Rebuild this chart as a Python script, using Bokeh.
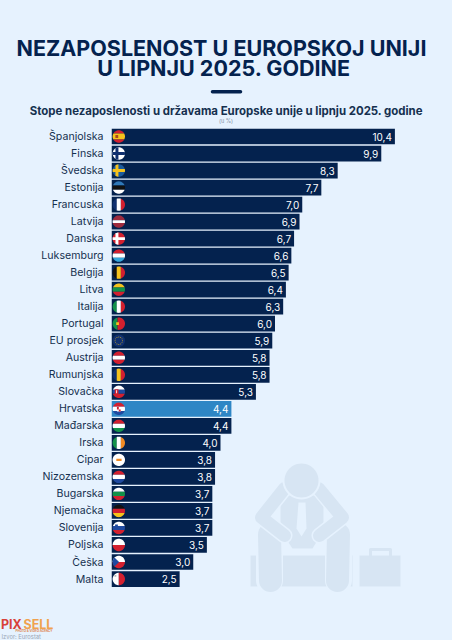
import math
from bokeh.plotting import figure
from bokeh.layouts import column
from bokeh.core.properties import value as fixed
from bokeh.models import ColumnDataSource, Range1d, LinearAxis, FixedTicker, Label
from bokeh.embed import file_html
from bokeh.resources import INLINE

COUNTRIES = ["Španjolska", "Finska", "Švedska", "Estonija", "Francuska", "Latvija", "Danska",
             "Luksemburg", "Belgija", "Litva", "Italija", "Portugal", "EU prosjek", "Austrija",
             "Rumunjska", "Slovačka", "Hrvatska", "Mađarska", "Irska", "Cipar", "Nizozemska",
             "Bugarska", "Njemačka", "Slovenija", "Poljska", "Češka", "Malta"]
VALUES = [10.4, 9.9, 8.3, 7.7, 7.0, 6.9, 6.7, 6.6, 6.5, 6.4, 6.3, 6.0, 5.9, 5.8, 5.8, 5.3,
          4.4, 4.4, 4.0, 3.8, 3.8, 3.7, 3.7, 3.7, 3.5, 3.0, 2.5]
HIGHLIGHT = "Hrvatska"
TITLE_LINES = ["NEZAPOSLENOST U EUROPSKOJ UNIJI", "U LIPNJU 2025. GODINE"]
SUBTITLE = "Stope nezaposlenosti u državama Europske unije u lipnju 2025. godine"
UNIT = "(u %)"
SOURCE = "Izvor: Eurostat"

BG = "#e6f2fe"
NAVY = "#04224e"
BLUE = "#2e86c5"
INK = "#15304f"
GHOST = "#d7e5f3"
FONT = "Inter"

W = 452
TOP, BOTTOM = 124, 600   # page y where the chart panel starts and ends
PAGE_H = 640
PXU = 27.25           # pixels per percentage point
ROW = 17.02           # pixels per row
X0 = 111              # page x of value 0
Y0 = 136              # page y of first row centre


def X(px):
    return (px - X0) / PXU


def Y(py):
    return (py - Y0) / ROW


def panel(y0, y1):
    """Full-width text panel whose data coordinates are page pixels."""
    f = figure(width=W, height=y1 - y0, output_backend="svg", toolbar_location=None,
               x_range=Range1d(0, W), y_range=Range1d(y1, y0), x_axis_type=None, y_axis_type=None,
               min_border=0, outline_line_color=None, background_fill_color=BG, border_fill_color=BG,
               frame_align=False)
    f.grid.visible = False
    return f


head = panel(0, TOP)
foot = panel(BOTTOM, PAGE_H)

p = figure(width=W, height=BOTTOM - TOP, output_backend="svg", toolbar_location=None,
           x_range=Range1d(0, X(W)), y_range=Range1d(Y(BOTTOM), Y(TOP)),
           x_axis_type=None, y_axis_type=None, min_border=0, min_border_left=X0,
           outline_line_color=None, background_fill_color=BG, border_fill_color=BG,
           frame_align=False)
p.grid.visible = False


def circle_poly(cx, cy, r, n=48):
    return [(cx + r * math.cos(2 * math.pi * k / n), cy + r * math.sin(2 * math.pi * k / n)) for k in range(n)]


def ghost_poly(points, color=GHOST):
    p.patch([X(a) for a, _ in points], [Y(b) for _, b in points], fill_color=color, line_color=None)


def ghost_line(points, width, color=GHOST):
    p.line([X(a) for a, _ in points], [Y(b) for _, b in points], line_color=color,
           line_width=width, line_cap="round", line_join="round")


def rect(x0, y0, x1, y1):
    return [(x0, y0), (x1, y0), (x1, y1), (x0, y1)]


# background silhouette: bench, legs, arms, torso, head, briefcase
ghost_poly(rect(250, 555, 352, 586))
ghost_poly(rect(359, 555, 400, 586))
ghost_line([(370, 555), (370, 549), (390, 549), (390, 555)], 3)
ghost_line([(269, 534), (269, 580)], 27, BG)
ghost_line([(338, 534), (338, 580)], 27, BG)
ghost_line([(269, 534), (270, 580)], 23)
ghost_line([(338, 534), (337, 580)], 23)
ghost_poly([(280, 495), (323, 495), (323, 530), (312, 548), (292, 548), (280, 530)])
ghost_line([(284, 488), (261, 517), (284, 535)], 16, BG)
ghost_line([(318, 488), (342, 517), (319, 535)], 16, BG)
ghost_line([(284, 488), (261, 517), (284, 535)], 13)
ghost_line([(318, 488), (342, 517), (319, 535)], 13)
ghost_poly([(298, 502), (305, 502), (306, 528), (301, 536), (296, 528)], BG)
ghost_poly(circle_poly(301, 480, 19), BG)
ghost_poly(circle_poly(301, 480, 17))

# bars
colors = [BLUE if c == HIGHLIGHT else NAVY for c in COUNTRIES]
rows = list(range(len(COUNTRIES)))
src = ColumnDataSource(dict(y=rows, value=VALUES, color=colors,
                            label=[f"{v:.1f}".replace(".", ",") for v in VALUES]))
p.hbar(y="y", left=0, right="value", height=0.925, fill_color="color", line_color=None, source=src)
p.text(x="value", y="y", text="label", source=src, text_color="#ffffff", text_align="right",
       text_baseline="middle", text_font=fixed(FONT), text_font_size="10px", x_offset=-3)

# category labels on a real axis
axis = LinearAxis(ticker=FixedTicker(ticks=rows),
                  major_label_overrides={i: c for i, c in enumerate(COUNTRIES)},
                  axis_line_color=None, major_tick_line_color=None, minor_tick_line_color=None,
                  major_tick_out=0, major_tick_in=0, major_label_standoff=8,
                  major_label_text_font=FONT, major_label_text_font_size="10.6px",
                  major_label_text_color=INK)
p.add_layout(axis, "left")

# flags: stripes in unit-disc coordinates
R = "#d3202f"; W_ = "#ffffff"; G = "#13924a"; B = "#1f4aa0"; Y_ = "#f6c21c"; K = "#111111"
DR = "#9e2b3e"; LB = "#35a7dc"; O = "#f08a24"; DB = "#10306f"


def hs(*c, cuts=None):
    n = len(c)
    cuts = cuts or [1 - 2 * k / n for k in range(n + 1)]
    return [(col, rect(-1, cuts[k + 1], 1, cuts[k])) for k, col in enumerate(c)]


def vs(*c, cuts=None):
    n = len(c)
    cuts = cuts or [-1 + 2 * k / n for k in range(n + 1)]
    return [(col, rect(cuts[k], -1, cuts[k + 1], 1)) for k, col in enumerate(c)]


def cross(base, col, t=0.24, off=-0.3):
    return [(base, rect(-1, -1, 1, 1)), (col, rect(off - t, -1, off + t, 1)), (col, rect(-1, -t, 1, t))]


def eu_stars():
    out = [(DB, rect(-1, -1, 1, 1))]
    for k in range(12):
        a = 2 * math.pi * k / 12
        u, v = 0.6 * math.cos(a), 0.6 * math.sin(a)
        out.append(("#b59a2c", rect(u - .07, v - .07, u + .07, v + .07)))
    return out


FLAGS = {
    "Španjolska": hs(R, Y_, R, cuts=[1, .5, -.5, -1]) + [("#a8461e", rect(-.55, -.25, -.1, .25))],
    "Finska": cross(W_, DB),
    "Švedska": cross("#1c5a9c", Y_),
    "Estonija": hs("#2f78b8", K, W_),
    "Francuska": vs(DB, W_, R),
    "Latvija": hs(DR, W_, DR, cuts=[1, .22, -.22, -1]),
    "Danska": cross(R, W_),
    "Luksemburg": hs(R, W_, LB),
    "Belgija": vs(K, Y_, R),
    "Litva": hs(Y_, G, R),
    "Italija": vs(G, W_, R),
    "Portugal": vs(G, R, cuts=[-1, -.2, 1]) + [(Y_, rect(-.42, -.22, .02, .22))],
    "EU prosjek": eu_stars(),
    "Austrija": hs(R, W_, R),
    "Rumunjska": vs(DB, Y_, R),
    "Slovačka": hs(W_, B, R) + [(R, rect(-.65, -.45, -.05, .4)), (W_, rect(-.42, -.25, -.28, .25))],
    "Hrvatska": hs(R, W_, B) + [(W_, rect(-.3, -.45, .3, .3)), (R, rect(-.3, -.1, 0, .3)), (R, rect(0, -.45, .3, -.1))],
    "Mađarska": hs(R, W_, G),
    "Irska": vs(G, W_, O),
    "Cipar": [(W_, rect(-1, -1, 1, 1)), (O, rect(-.4, -.18, .45, .2))],
    "Nizozemska": hs(R, W_, B),
    "Bugarska": hs(W_, G, R),
    "Njemačka": hs(K, R, Y_),
    "Slovenija": hs(W_, B, R) + [(B, rect(-.6, .05, -.15, .55))],
    "Poljska": hs(W_, R),
    "Češka": hs(W_, R) + [(B, [(-1, 1), (.05, 0), (-1, -1)])],
    "Malta": vs(W_, R) + [("#b9b9b9", rect(-.7, .35, -.4, .65))],
}


def clip(subject, clipper):
    """Sutherland-Hodgman clip of a polygon by a convex counter-clockwise polygon."""
    out = subject
    for i in range(len(clipper)):
        a, b = clipper[i], clipper[(i + 1) % len(clipper)]
        inp, out = out, []

        def side(q):
            return (b[0] - a[0]) * (q[1] - a[1]) - (b[1] - a[1]) * (q[0] - a[0])

        for j in range(len(inp)):
            c, d = inp[j], inp[(j + 1) % len(inp)]
            sc, sd = side(c), side(d)
            if sc >= 0:
                out.append(c)
            if (sc >= 0) != (sd >= 0):
                t = sc / (sc - sd)
                out.append((c[0] + t * (d[0] - c[0]), c[1] + t * (d[1] - c[1])))
        if not out:
            break
    return out


FLAG_PX = 118.3
FLAG_R = 6.2
disc = circle_poly(0, 0, 1)
fx, fy, fc = [], [], []
for i, name in enumerate(COUNTRIES):
    for col, poly in FLAGS[name]:
        ccw = poly if sum(poly[k][0] * poly[(k + 1) % len(poly)][1] - poly[(k + 1) % len(poly)][0] * poly[k][1]
                          for k in range(len(poly))) > 0 else poly[::-1]
        piece = clip(disc, ccw)
        if piece:
            fx.append([X(FLAG_PX) + u * FLAG_R / PXU for u, _ in piece])
            fy.append([i - v * FLAG_R / ROW for _, v in piece])
            fc.append(col)
p.patches(fx, fy, fill_color=fc, line_color=None)


def text(f, px, py, s, size, color, align="center", weight="normal"):
    f.add_layout(Label(x=px, y=py, text=s, text_font=FONT, text_font_size=f"{size}px",
                       text_color=color, text_align=align, text_baseline="middle",
                       text_font_style=weight))


text(head, 221, 47, TITLE_LINES[0], 21.5, NAVY, weight="bold")
text(head, 223.4, 67, TITLE_LINES[1], 21.5, NAVY, weight="bold")
head.line([212, 240], [91.3, 91.3], line_color=NAVY, line_width=3.5, line_cap="round")
text(head, 225.8, 110.8, SUBTITLE, 11.43, INK, weight="bold")
text(head, 225.5, 120, UNIT, 5.5, "#7f8fa3")

text(foot, 0.5, 624, "PIX", 12.5, "#d8413a", align="left", weight="bold")
text(foot, 23, 624, "SELL", 12.5, "#f0a24e", align="left", weight="bold")
text(foot, 15, 630.7, "PHOTO & VIDEO AGENCY", 3, "#e08a50", align="left", weight="bold")
text(foot, 1, 636, SOURCE, 5.8, "#9aa6b5", align="left")

page = column(head, p, foot, spacing=0)
html = file_html(page, INLINE)
html = html.replace("</head>", f"<style>html,body{{background:{BG};overflow:hidden}}</style></head>", 1)
open("out.html", "w").write(html)
